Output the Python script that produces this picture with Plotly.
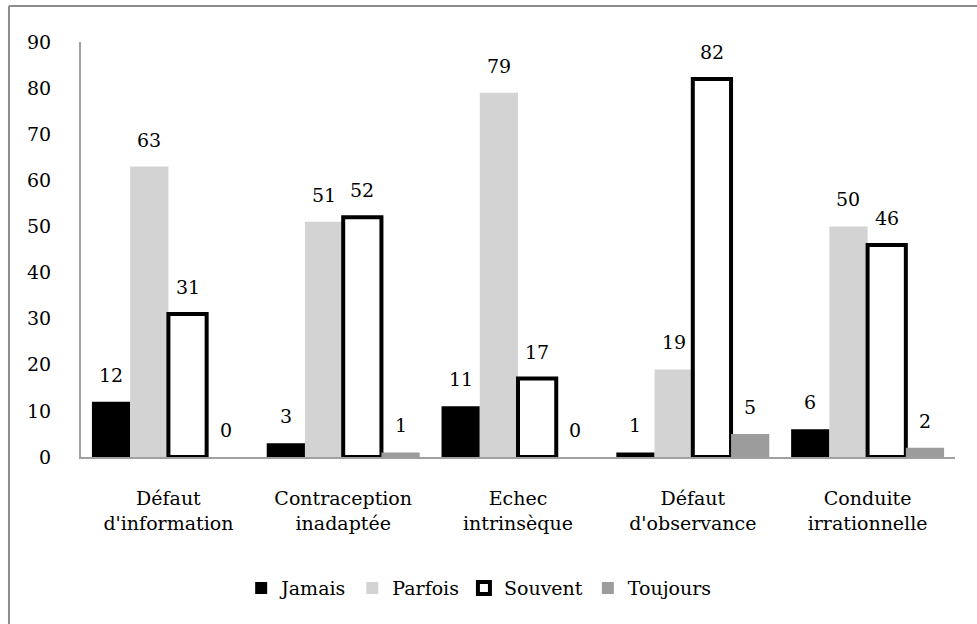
import plotly.graph_objects as go

# Data
categories = ["Défaut<br>d'information", "Contraception<br>inadaptée", "Echec<br>intrinsèque",
              "Défaut<br>d'observance", "Conduite<br>irrationnelle"]
jamais = [12, 3, 11, 1, 6]
parfois = [63, 51, 79, 19, 50]
souvent = [31, 52, 17, 82, 46]
toujours = [0, 1, 0, 5, 2]

FONT = "DejaVu Serif"
SIZE = 19

fig = go.Figure()

series = [
    ("Jamais", jamais, "#000000", "#000000", 0),
    ("Parfois", parfois, "#d3d3d3", "#d3d3d3", 0),
    ("Souvent", souvent, "#ffffff", "#000000", 4),
    ("Toujours", toujours, "#9c9c9c", "#9c9c9c", 0),
]
bargap = 0.125
plot_w = 874
cat_px = plot_w / len(categories)
bar_px = cat_px * (1 - bargap) / len(series)

for i, (name, vals, fill, line, lw) in enumerate(series):
    fig.add_trace(go.Bar(
        name=name,
        x=categories,
        y=vals,
        marker=dict(color=fill, line=dict(color=line, width=lw)),
        cliponaxis=False,
    ))
    # value labels above bars
    for c, v in zip(categories, vals):
        fig.add_annotation(x=c, y=v, text=str(v), showarrow=False,
                           xshift=(i - 1.5) * bar_px, yshift=14, yanchor="bottom",
                           font=dict(family=FONT, size=SIZE, color="#000000"))

# outer frame (left and top edges visible)
fig.add_shape(type="line", xref="paper", yref="paper", x0=-0.0824, x1=-0.0824, y0=-0.5, y1=1.0867,
              line=dict(color="#8c8c8c", width=2))
fig.add_shape(type="line", xref="paper", yref="paper", x0=-0.0824, x1=1.1, y0=1.0867, y1=1.0867,
              line=dict(color="#8c8c8c", width=2))

fig.update_layout(
    width=977, height=624,
    margin=dict(l=81, r=22, t=42, b=167),
    barmode="group",
    bargap=bargap,
    bargroupgap=0,
    plot_bgcolor="white",
    paper_bgcolor="white",
    font=dict(family=FONT, size=SIZE, color="#000000"),
    showlegend=True,
    legend=dict(orientation="h", x=0.455, xanchor="center", y=-0.316, yanchor="middle",
                font=dict(family=FONT, size=SIZE), itemwidth=30, traceorder="normal"),
)

fig.update_xaxes(showline=True, linecolor="#a0a0a0", linewidth=2, showgrid=False,
                 ticks="", tickfont=dict(family=FONT, size=SIZE), ticklabelstandoff=23)
fig.update_yaxes(range=[0, 90], dtick=10, showline=True, linecolor="#a0a0a0", linewidth=2,
                 showgrid=False, zeroline=False, ticks="", tickfont=dict(family=FONT, size=SIZE),
                 ticklabelstandoff=24)

fig.write_html("out.html", config={"displayModeBar": False},
               post_script="document.body.style.margin='0';")
